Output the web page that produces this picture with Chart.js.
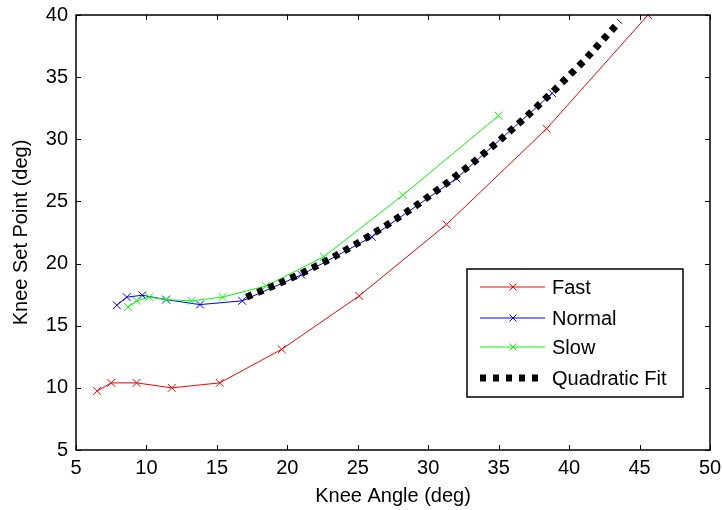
<!DOCTYPE html>
<html>
<head>
<meta charset="utf-8">
<script src="https://cdn.jsdelivr.net/npm/chart.js@4"></script>
<style>
  html, body { margin: 0; padding: 0; background: #fff; }
  #wrap { width: 722px; height: 510px; }
</style>
</head>
<body>
<div id="wrap"><canvas id="chart" width="722" height="510"></canvas></div>
<script>
// values
const fastX = [6.5, 7.5, 9.3, 11.8, 15.2, 19.6, 25.1, 31.3, 38.4, 45.6];
const fastY = [9.75, 10.4, 10.4, 10.0, 10.4, 13.1, 17.4, 23.15, 30.85, 40.0];

const normalX = [7.9, 8.6, 9.7, 11.4, 13.8, 16.8, 21.0, 26.0, 32.0, 38.8];
const normalY = [16.65, 17.3, 17.45, 17.1, 16.7, 17.0, 19.1, 22.15, 26.85, 33.7];

const slowX = [8.7, 9.3, 10.2, 11.4, 13.2, 15.4, 18.5, 22.6, 28.2, 35.0];
const slowY = [16.5, 17.0, 17.3, 17.1, 17.0, 17.3, 18.2, 20.55, 25.5, 31.9];

const fitX = [17.1, 19, 21, 23, 25, 27, 29, 31, 33, 35, 37, 39, 41, 43.6];
const fitY = [17.3, 18.2, 19.2, 20.35, 21.65, 23.05, 24.55, 26.2, 27.95, 29.85, 31.85, 34.0, 36.25, 39.5];

const xTicks = [5, 10, 15, 20, 25, 30, 35, 40, 45, 50];
const yTicks = [5, 10, 15, 20, 25, 30, 35, 40];

function toPoints(xs, ys) {
    return xs.map((x, i) => ({ x: x, y: ys[i] }));
}

const FONT = "'Liberation Sans', Arial, Helvetica, sans-serif";

// matlab style box with inward ticks
const boxPlugin = {
    id: 'box',
    afterDatasetsDraw(chart) {
        const { ctx, chartArea: a, scales } = chart;
        ctx.save();
        ctx.strokeStyle = '#000';
        ctx.lineWidth = 1;
        const tl = 5;
        ctx.beginPath();
        xTicks.forEach(v => {
            const px = Math.round(scales.x.getPixelForValue(v)) + 0.5;
            ctx.moveTo(px, a.bottom); ctx.lineTo(px, a.bottom - tl);
            ctx.moveTo(px, a.top); ctx.lineTo(px, a.top + tl);
        });
        yTicks.forEach(v => {
            const py = Math.round(scales.y.getPixelForValue(v)) + 0.5;
            ctx.moveTo(a.left, py); ctx.lineTo(a.left + tl, py);
            ctx.moveTo(a.right, py); ctx.lineTo(a.right - tl, py);
        });
        ctx.stroke();
        ctx.lineWidth = 1.5;
        ctx.strokeRect(a.left, a.top, a.right - a.left, a.bottom - a.top);
        ctx.restore();
    }
};

// legend box inside the axes, like matlab
const legendPlugin = {
    id: 'boxLegend',
    afterDraw(chart) {
        const ctx = chart.ctx;
        const x0 = 467, y0 = 269, w = 216, h = 128;
        ctx.save();
        ctx.fillStyle = '#fff';
        ctx.fillRect(x0, y0, w, h);
        ctx.strokeStyle = '#000';
        ctx.lineWidth = 1.5;
        ctx.strokeRect(x0, y0, w, h);
        const rows = [287, 318, 347, 378];
        chart.data.datasets.forEach((ds, i) => {
            const y = rows[i];
            ctx.strokeStyle = ds.borderColor;
            ctx.lineWidth = ds.borderWidth;
            ctx.lineCap = 'butt';
            ctx.beginPath();
            if (ds.borderDash) {
                ctx.setLineDash([6, 7]);
                ctx.moveTo(480, y); ctx.lineTo(539, y);
            } else {
                ctx.moveTo(480, y); ctx.lineTo(545, y);
            }
            ctx.stroke();
            ctx.setLineDash([]);
            if (ds.pointRadius > 0) {
                ctx.lineWidth = 1;
                const r = 3.5;
                ctx.beginPath();
                ctx.moveTo(513 - r, y - r); ctx.lineTo(513 + r, y + r);
                ctx.moveTo(513 - r, y + r); ctx.lineTo(513 + r, y - r);
                ctx.stroke();
            }
            ctx.fillStyle = '#000';
            ctx.font = '20px ' + FONT;
            ctx.textBaseline = 'middle';
            ctx.fillText(ds.label, 552, y + 1);
        });
        ctx.restore();
    }
};

const bgPlugin = {
    id: 'bg',
    beforeDraw(chart) {
        const ctx = chart.ctx;
        ctx.save();
        ctx.fillStyle = '#fff';
        ctx.fillRect(0, 0, chart.width, chart.height);
        ctx.restore();
    }
};

function seriesStyle(color) {
    return {
        borderColor: color,
        backgroundColor: color,
        borderWidth: 1,
        pointStyle: 'crossRot',
        pointRadius: 5.5,
        pointBorderWidth: 1,
        pointBorderColor: color,
        tension: 0,
        fill: false
    };
}

new Chart(document.getElementById('chart'), {
    type: 'line',
    data: {
        datasets: [
            Object.assign({ label: 'Fast', data: toPoints(fastX, fastY), order: 3 }, seriesStyle('#ff0000')),
            Object.assign({ label: 'Normal', data: toPoints(normalX, normalY), order: 2 }, seriesStyle('#0000ff')),
            Object.assign({ label: 'Slow', data: toPoints(slowX, slowY), order: 1 }, seriesStyle('#00ff00')),
            {
                label: 'Quadratic Fit',
                data: toPoints(fitX, fitY),
                order: 0,
                borderColor: '#000',
                backgroundColor: '#000',
                borderWidth: 7,
                borderDash: [6, 6],
                borderCapStyle: 'butt',
                pointRadius: 0,
                tension: 0,
                fill: false
            }
        ]
    },
    options: {
        responsive: false,
        animation: false,
        devicePixelRatio: 1,
        layout: { padding: { top: 15, right: 12, left: 0, bottom: 0 } },
        plugins: {
            legend: { display: false },
            tooltip: { enabled: false }
        },
        scales: {
            x: {
                type: 'linear',
                min: 5,
                max: 50,
                afterBuildTicks(scale) { scale.ticks = xTicks.map(v => ({ value: v })); },
                afterFit(scale) { scale.height = 60; scale.paddingLeft = 0; scale.paddingRight = 0; },
                grid: { display: false, drawTicks: false },
                border: { display: false },
                ticks: { color: '#000', font: { family: FONT, size: 20 }, padding: 6, maxRotation: 0 },
                title: { display: true, text: 'Knee Angle (deg)', color: '#000', font: { family: FONT, size: 20 }, padding: { top: 0, bottom: 2 } }
            },
            y: {
                type: 'linear',
                min: 5,
                max: 40,
                afterBuildTicks(scale) { scale.ticks = yTicks.map(v => ({ value: v })); },
                afterFit(scale) { scale.width = 76; scale.paddingTop = 0; scale.paddingBottom = 0; },
                grid: { display: false, drawTicks: false },
                border: { display: false },
                ticks: { color: '#000', font: { family: FONT, size: 20 }, padding: 8 },
                title: { display: true, text: 'Knee Set Point (deg)', color: '#000', font: { family: FONT, size: 20 }, padding: { top: 9, bottom: 0 } }
            }
        }
    },
    plugins: [bgPlugin, boxPlugin, legendPlugin]
});
</script>
</body>
</html>
